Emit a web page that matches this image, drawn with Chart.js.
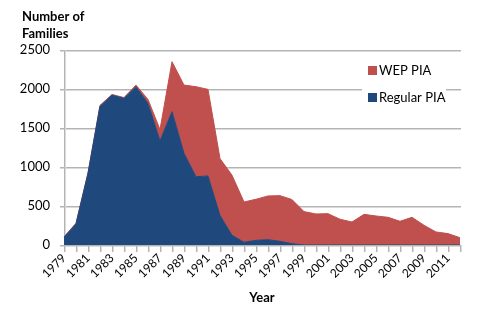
<!DOCTYPE html>
<html>
<head>
<meta charset="utf-8">
<script src="https://cdn.jsdelivr.net/npm/chart.js@4/dist/chart.umd.min.js"></script>
<style>
  body{margin:0;background:#fff}
  #wrap{width:479px;height:328px;position:relative}
</style>
</head>
<body>
<div id="wrap"><canvas id="famChart" width="479" height="328"></canvas></div>
<script>
const years=[1979,1980,1981,1982,1983,1984,1985,1986,1987,1988,1989,1990,1991,1992,1993,1994,1995,1996,1997,1998,1999,2000,2001,2002,2003,2004,2005,2006,2007,2008,2009,2010,2011,2012]
const regularPIA=[100,270,920,1780,1920,1880,2030,1815,1335,1710,1175,875,885,380,125,35,60,68,47,17,0,0,0,0,0,0,0,0,0,0,0,0,0,0]
const totalFamilies=[103,280,925,1790,1930,1890,2050,1866,1480,2350,2050,2030,1995,1108,895,552,586,629,633,582,428,398,402,330,295,393,372,355,304,355,253,167,146,94]
const wepPIA=totalFamilies.map((t,i)=>t-regularPIA[i])
const yMax=2500
const yStep=500

const font='Lato, "Open Sans", sans-serif'
const lineGray='#b4b4b4'
const lineSoft='#dadada'

// grid and axis lines, placed from the scales
const gridLines={
  id:'gridLines',
  beforeDatasetsDraw(chart){
    const c=chart.ctx, a=chart.chartArea, xs=chart.scales.x, ys=chart.scales.y
    const l=Math.round(a.left), r=Math.round(a.right), b=Math.round(a.bottom)
    c.save()
    ys.ticks.forEach(t=>{
      const py=Math.round(ys.getPixelForValue(t.value))
      c.fillStyle=lineGray
      c.fillRect(l-4,py,r-l+5,1)
      c.fillStyle=lineSoft
      c.fillRect(l-4,py+1,r-l+5,1)
    })
    c.fillStyle=lineGray
    c.fillRect(l,Math.round(a.top),1,b-Math.round(a.top)+1)
    c.fillStyle=lineSoft
    c.fillRect(l+1,Math.round(a.top),1,b-Math.round(a.top)+1)
    xs.ticks.forEach((t,i)=>{
      const px=Math.round(xs.getPixelForValue(i))
      c.fillStyle=lineGray
      c.fillRect(px,b,1,7)
      c.fillStyle=lineSoft
      c.fillRect(px+1,b,1,7)
    })
    c.restore()
  }
}

const extras={
  id:'extras',
  afterDraw(chart){
    const c=chart.ctx, a=chart.chartArea
    c.save()
    c.fillStyle=lineGray
    c.fillRect(Math.round(a.left),Math.round(a.bottom),Math.round(a.right-a.left)+1,1)
    c.fillStyle='#000'
    c.font='bold 13px '+font
    c.textBaseline='middle'
    c.fillText('Number of',22,17)
    c.fillText('Families',22,34)
    // legend
    c.fillStyle='#fff'
    c.fillRect(362,60,84,50)
    c.font='13px '+font
    c.fillStyle='#c0504d'
    c.fillRect(368,66,9,9)
    c.fillStyle='#1f497d'
    c.fillRect(368,93,9,9)
    c.fillStyle='#000'
    c.fillText('WEP PIA',379,71)
    c.fillText('Regular PIA',379,98)
    c.restore()
  }
}

new Chart(document.getElementById('famChart'),{
  type:'line',
  data:{
    labels:years,
    datasets:[{
      label:'Regular PIA',
      data:regularPIA,
      backgroundColor:'#1f497d',
      borderColor:'#1f497d',
      borderWidth:1,
      pointRadius:0,
      fill:'origin',
      tension:0
    },{
      label:'WEP PIA',
      data:wepPIA,
      backgroundColor:'#c0504d',
      borderColor:'#c0504d',
      borderWidth:1,
      pointRadius:0,
      fill:'-1',
      tension:0
    }]
  },
  options:{
    responsive:false,
    animation:false,
    layout:{padding:{top:50,right:19,bottom:18,left:0}},
    plugins:{legend:{display:false},tooltip:{enabled:false}},
    scales:{
      x:{
        grid:{drawOnChartArea:false,color:'rgba(0,0,0,0)',tickLength:6},
        border:{display:false},
        ticks:{
          autoSkip:false,maxRotation:45,minRotation:45,
          color:'#000',font:{family:font,size:12},padding:0,
          callback:function(v,i){return i%2===0?this.getLabelForValue(v):''}
        },
        title:{display:true,text:'Year',color:'#000',font:{family:font,size:13,weight:'bold'}},
        afterFit(s){s.height=65}
      },
      y:{
        stacked:true,
        min:0,max:yMax,
        grid:{color:'rgba(0,0,0,0)',tickLength:4},
        border:{display:false},
        ticks:{stepSize:yStep,color:'#000',font:{family:font,size:13},padding:10,callback:v=>String(v)},
        afterFit(s){s.width=64}
      }
    }
  },
  plugins:[gridLines,extras]
})
</script>
</body>
</html>
